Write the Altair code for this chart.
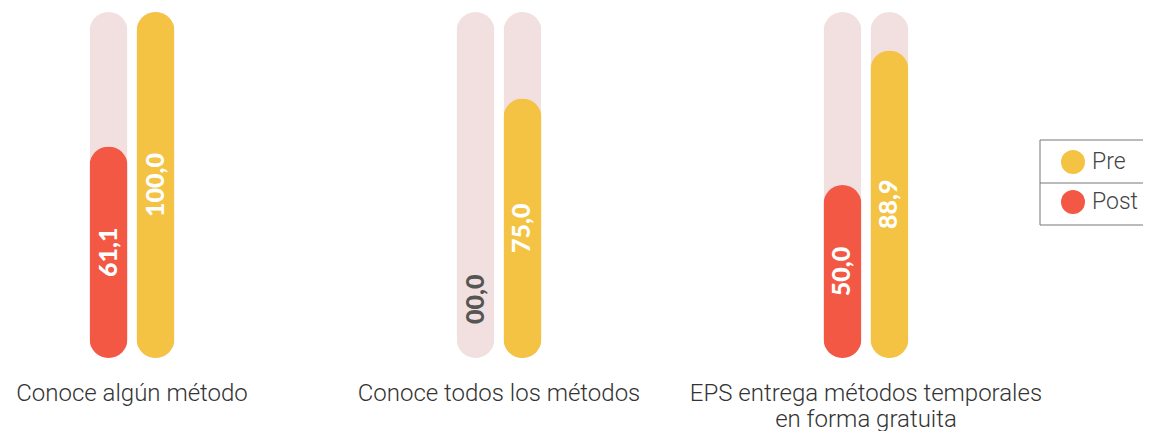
import altair as alt
import pandas as pd

categories = ["Conoce algún método", "Conoce todos los métodos",
              "EPS entrega métodos temporales en forma gratuita"]
post_values = [61.1, 0.0, 50.0]
pre_values = [100.0, 75.0, 88.9]
post_labels = ["61,1", "00,0", "50,0"]
pre_labels = ["100,0", "75,0", "88,9"]
series = ["Pre", "Post"]
series_colors = ["#F4C343", "#F25844"]

rows = []
for i, c in enumerate(categories):
    rows.append({"cat": c, "serie": "Post", "value": post_values[i], "label": post_labels[i]})
    rows.append({"cat": c, "serie": "Pre", "value": pre_values[i], "label": pre_labels[i]})
df = pd.DataFrame(rows)

x_enc = alt.X("cat:N", sort=categories, title=None,
              scale=alt.Scale(paddingInner=0.744, paddingOuter=0.21),
              axis=alt.Axis(domain=False, ticks=False, labelAngle=0, labelFontSize=24,
                            labelFont="Roboto", labelFontWeight=300, labelColor="#333333",
                            labelPadding=23, labelLineHeight=26, labelLimit=500,
                            labelExpr="datum.label == 'EPS entrega métodos temporales en forma gratuita' ? ['EPS entrega métodos temporales', 'en forma gratuita'] : datum.label"))
xo_enc = alt.XOffset("serie:N", sort=["Post", "Pre"],
                     scale=alt.Scale(paddingInner=0, paddingOuter=0))
y_scale = alt.Scale(domain=[0, 100])

base = alt.Chart(df)

track = base.transform_calculate(track="100").mark_bar(
    width=38, cornerRadius=19, color="#F2E0E0"
).encode(
    x=x_enc, xOffset=xo_enc,
    y=alt.Y("track:Q", scale=y_scale, axis=None),
)

bars = base.transform_filter("datum.value > 0").mark_bar(
    width=38, cornerRadius=19
).encode(
    x=x_enc, xOffset=xo_enc,
    y=alt.Y("value:Q", scale=y_scale, axis=None),
    color=alt.Color("serie:N", scale=alt.Scale(domain=series, range=series_colors),
                    legend=alt.Legend(title=None, orient="none", legendX=1032, legendY=134,
                                      symbolType="circle", symbolSize=576,
                                      symbolStrokeWidth=0, symbolOffset=17,
                                      labelFontSize=23, labelFont="Roboto",
                                      labelFontWeight=300, labelColor="#444444",
                                      labelOffset=7, rowPadding=16, padding=4,
                                      offset=0)),
)

texts = base.transform_calculate(
    ypos="datum.value > 0 ? datum.value / 2 : 17",
    tcolor="datum.value > 0 ? '#FFFFFF' : '#555555'",
).mark_text(angle=270, fontSize=25, font="Lato", fontWeight=900,
            align="center", baseline="middle").encode(
    x=x_enc, xOffset=xo_enc,
    y=alt.Y("ypos:Q", scale=y_scale, axis=None),
    text="label:N",
    color=alt.Color("tcolor:N", scale=None),
)

frame_df = pd.DataFrame({"d": [0]})
frame_rule = alt.Chart(frame_df).mark_rule(color="#777777", strokeWidth=1)
top_line = frame_rule.encode(x=alt.value(1032), x2=alt.value(1135), y=alt.value(128))
mid_line = frame_rule.encode(x=alt.value(1032), x2=alt.value(1135), y=alt.value(171))
bot_line = frame_rule.encode(x=alt.value(1032), x2=alt.value(1135), y=alt.value(213))
left_line = frame_rule.encode(x=alt.value(1032), y=alt.value(128), y2=alt.value(213))

chart = alt.layer(track, bars, texts, top_line, mid_line, bot_line, left_line).properties(
    width=982, height=346,
    padding={"left": 0, "top": 4, "right": 0, "bottom": 0},
).configure_view(stroke=None).configure_axis(grid=False)

chart.save("out.html", embed_options={"renderer": "svg", "actions": False})
